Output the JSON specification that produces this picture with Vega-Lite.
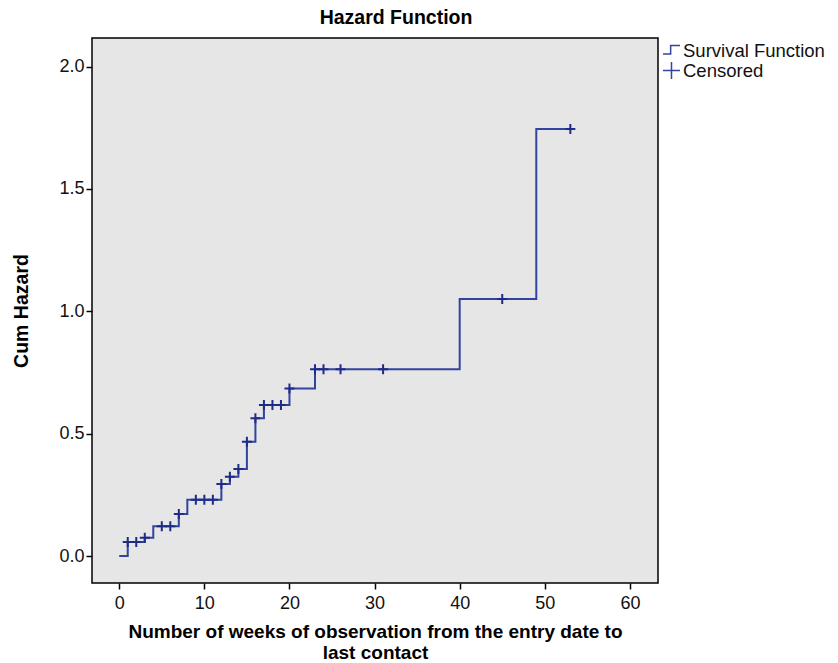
{
  "$schema": "https://vega.github.io/schema/vega-lite/v6.json",
  "width": 566,
  "height": 545,
  "autosize": {"type": "none"},
  "padding": {"left": 92, "top": 38, "right": 180, "bottom": 80},
  "background": "white",
  "title": {"text": "Hazard Function", "font": "Liberation Sans", "fontSize": 19.5, "fontWeight": "bold", "color": "#000", "anchor": "middle", "dx": 21, "offset": 10},
  "config": {
    "view": {"fill": "#e6e6e6", "stroke": "#000", "strokeWidth": 1.5},
    "axis": {"grid": false, "domain": false, "tickColor": "#000", "tickWidth": 1.5, "tickSize": 6, "labelFont": "Liberation Sans", "labelFontSize": 18, "labelColor": "#111", "titleFont": "Liberation Sans", "titleFontSize": 19.5, "titleFontWeight": "bold", "titleColor": "#000"},
    "legend": {"labelFont": "Liberation Sans", "labelFontSize": 18.5, "labelColor": "#111"}
  },
  "datasets": {
    "steps": [
      {"t": 0, "h": 0}, {"t": 1, "h": 0.058}, {"t": 3, "h": 0.075}, {"t": 4, "h": 0.122},
      {"t": 7, "h": 0.172}, {"t": 8, "h": 0.23}, {"t": 12, "h": 0.295}, {"t": 13, "h": 0.324},
      {"t": 14, "h": 0.356}, {"t": 15, "h": 0.467}, {"t": 16, "h": 0.563}, {"t": 17, "h": 0.617},
      {"t": 20, "h": 0.685}, {"t": 23, "h": 0.763}, {"t": 40, "h": 1.05}, {"t": 49, "h": 1.745},
      {"t": 53, "h": 1.745}
    ],
    "censored": [
      {"t": 1, "h": 0.058}, {"t": 2, "h": 0.058}, {"t": 3, "h": 0.075}, {"t": 5, "h": 0.122},
      {"t": 6, "h": 0.122}, {"t": 7, "h": 0.172}, {"t": 9, "h": 0.23}, {"t": 10, "h": 0.23},
      {"t": 11, "h": 0.23}, {"t": 12, "h": 0.295}, {"t": 13, "h": 0.324}, {"t": 14, "h": 0.356},
      {"t": 15, "h": 0.467}, {"t": 16, "h": 0.563}, {"t": 17, "h": 0.617}, {"t": 18, "h": 0.617},
      {"t": 19, "h": 0.617}, {"t": 20, "h": 0.685}, {"t": 23, "h": 0.763}, {"t": 24, "h": 0.763},
      {"t": 26, "h": 0.763}, {"t": 31, "h": 0.763}, {"t": 45, "h": 1.05}, {"t": 53, "h": 1.745}
    ]
  },
  "encoding": {
    "x": {"field": "t", "type": "quantitative", "scale": {"domain": [-3.2, 63.3], "nice": false, "zero": false},
      "axis": {"values": [0, 10, 20, 30, 40, 50, 60], "labelPadding": 5, "titlePadding": 10, "titleFontSize": 19, "titleLineHeight": 21.5,
        "title": ["Number of weeks of observation from the entry date to", "last contact"]}},
    "y": {"field": "h", "type": "quantitative", "scale": {"domain": [-0.11, 2.117], "nice": false, "zero": false},
      "axis": {"values": [0, 0.5, 1, 1.5, 2], "format": ".1f", "labelPadding": 2, "titlePadding": 27, "title": "Cum Hazard"}}
  },
  "layer": [
    {
      "data": {"name": "steps"},
      "mark": {"type": "line", "interpolate": "step-after", "color": "#3243a0", "strokeWidth": 2}
    },
    {
      "data": {"name": "censored"},
      "mark": {"type": "point", "filled": false, "color": "#1f2c86", "strokeWidth": 2, "size": 100, "opacity": 1},
      "encoding": {
        "shape": {"datum": "Censored", "type": "nominal",
          "scale": {"domain": ["Survival Function", "Censored"], "range": ["M-1,0.4H-0.1V-0.6H1", "M-1,0H1M0,-1V1"]},
          "legend": {"title": null, "orient": "none", "legendX": 570, "legendY": 3, "symbolSize": 289, "symbolStrokeWidth": 1.5, "symbolStrokeColor": "#3243a0", "symbolFillColor": "transparent", "labelOffset": 2, "rowPadding": -1}}
      }
    }
  ]
}
